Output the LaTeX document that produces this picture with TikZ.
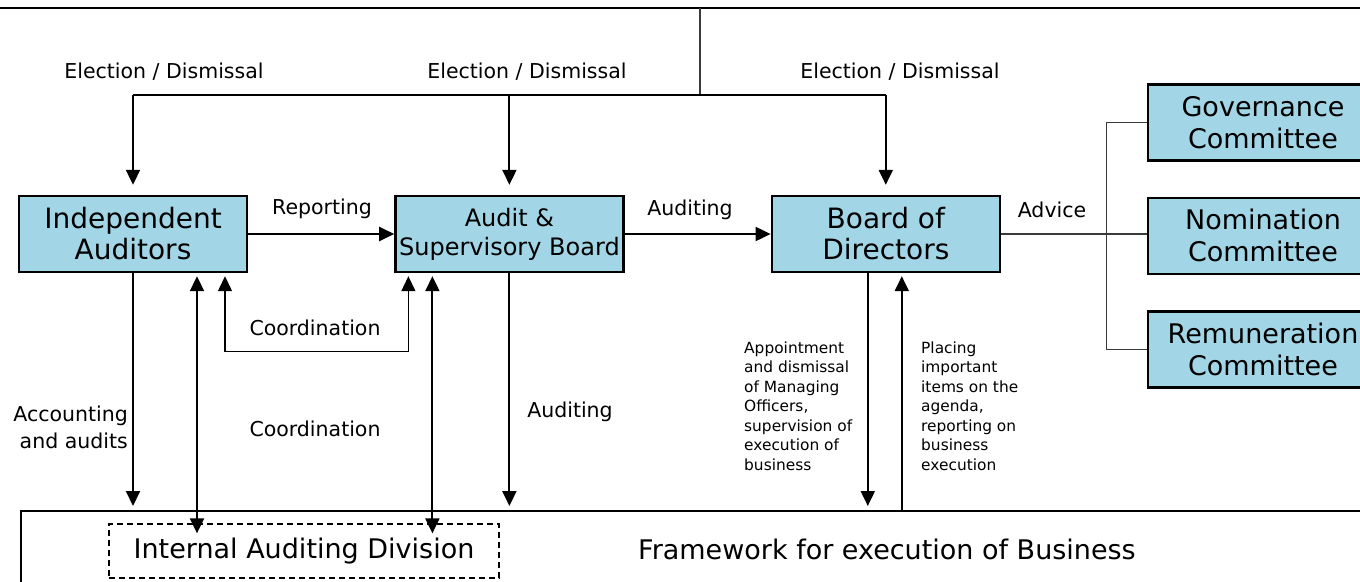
\documentclass[tikz,border=0pt]{standalone}
\usepackage{fontspec}
\setmainfont{DejaVu Sans}
\usepackage{tikz}
\usetikzlibrary{positioning,arrows.meta}
\definecolor{celeste}{HTML}{A2D6E6}
\definecolor{linea}{HTML}{3A3A3A}

\begin{document}
\begin{tikzpicture}[
  x=1pt, y=-1pt,
  node distance=35pt and 146pt,
  organo/.style={rectangle, draw=black, line width=2.4pt, fill=celeste, minimum width=228pt, minimum height=76pt, inner sep=0pt, align=center, font=\fontsize{28}{31}\selectfont},
  comite/.style={organo, minimum width=230pt, font=\fontsize{27}{32}\selectfont},
  tag/.style={inner sep=0pt, font=\fontsize{20.5}{27}\selectfont},
  nota/.style={inner sep=0pt, align=left, font=\fontsize{15.4}{19.5}\selectfont},
  flecha/.style={-{Triangle[length=15pt, width=14pt]}, line width=2pt},
  doble/.style={{Triangle[length=15pt, width=14pt]}-{Triangle[length=15pt, width=14pt]}, line width=2pt},
  enlace/.style={draw=linea, line width=1.2pt}
]
\useasboundingbox (0,0) rectangle (1360,581);
\clip (0,0) rectangle (1360,581);
\fill[white] (0,0) rectangle (1360,581);

\node[organo] (ia) at (133,234) {Independent\\Auditors};
\node[organo, right=of ia, font=\fontsize{24}{29}\selectfont] (asb) {Audit \&\\Supervisory Board};
\node[organo, right=of asb] (bod) {Board of\\Directors};
\node[comite] (gov) at (1263,122.5) {Governance\\Committee};
\node[comite, below=of gov] (nom) {Nomination\\Committee};
\node[comite, below=of nom] (rem) {Remuneration\\Committee};

\node[draw, line width=2.4pt, minimum width=1360pt, minimum height=90pt, inner sep=0pt, anchor=north west] (marco) at (20,510) {};
\node[draw, dashed, dash pattern=on 6pt off 4pt, line width=1.3pt, minimum width=390pt, minimum height=54pt, font=\fontsize{27}{30}\selectfont] (iad) at (304,551) {Internal Auditing Division};
\node[font=\fontsize{27}{30}\selectfont] (marcotxt) at (887,549) {Framework for execution of Business};

\node[tag] (ed1) at (164,72) {Election / Dismissal};
\node[tag] (ed2) at (527,72) {Election / Dismissal};
\node[tag] (ed3) at (900,72) {Election / Dismissal};
\node[tag] (rep) at (322,209) {Reporting};
\node[tag] (aud1) at (690,210) {Auditing};
\node[tag] (adv) at (1052,210) {Advice};
\node[tag] (coo1) at (315,328) {Coordination};
\node[tag] (coo2) at (315,429) {Coordination};
\node[tag] (aud2) at (570,412) {Auditing};
\node[tag, anchor=east, align=right] (acc) at (128,427) {Accounting\\and audits};
\node[nota, anchor=west] (appt) at (744,406) {Appointment\\and dismissal\\of Managing\\Officers,\\supervision of\\execution of\\business};
\node[nota, anchor=west] (plac) at (921,406) {Placing\\important\\items on the\\agenda,\\reporting on\\business\\execution};

% shareholders line and election arrows
\coordinate (gms) at (700,8);
\coordinate (split) at (700,95);
\draw[line width=2.4pt] (0,8) -- (1360,8);
\draw[enlace] (gms) -- (split);
\draw[line width=1.5pt] (ia.north |- split) -- (bod.north |- split);
\foreach \n in {ia,asb,bod}
  \draw[flecha, shorten >=10pt] (\n.north |- split) -- (\n.north);

\draw[flecha] (ia) -- (asb);
\draw[flecha] (asb) -- (bod);
\draw[enlace] (bod.east) -- (bod.east -| nom.west);
\draw[enlace] (gov.west) -- ++(-40,0) |- (rem.west);

% down to the business framework
\draw[flecha, shorten >=4pt] (ia.south) -- (ia.south |- marco.north);
\draw[doble, shorten <=3pt, shorten >=-10pt] ([xshift=64pt]ia.south) -- ([xshift=64pt]ia.south |- iad.north);
\draw[{Triangle[length=15pt, width=14pt]}-{Triangle[length=15pt, width=14pt]}, line width=1.3pt, shorten <=3pt, shorten >=3pt] ([xshift=92pt]ia.south) -- ++(0,78) -| ([xshift=-101pt]asb.south);
\draw[doble, shorten <=3pt, shorten >=-10pt] ([xshift=-77pt]asb.south) -- ([xshift=-77pt]asb.south |- iad.north);
\draw[flecha, shorten >=4pt] (asb.south) -- (asb.south |- marco.north);
\draw[flecha, shorten >=4pt] ([xshift=-18pt]bod.south) -- ([xshift=-18pt]bod.south |- marco.north);
\draw[flecha, shorten >=3pt] ([xshift=16pt]bod.south |- marco.north) -- ([xshift=16pt]bod.south);
\end{tikzpicture}
\end{document}
